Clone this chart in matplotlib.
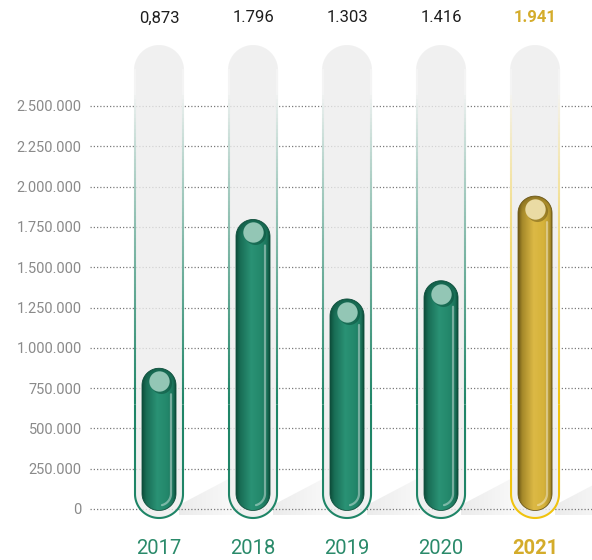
import numpy as np
import matplotlib
matplotlib.use("Agg")
import matplotlib.pyplot as plt
from matplotlib.patches import Polygon
from matplotlib.colors import to_rgb

years = ["2017", "2018", "2019", "2020", "2021"]
values = [873000, 1796000, 1303000, 1416000, 1941000]
value_labels = ["0,873", "1.796", "1.303", "1.416", "1.941"]
yticks = [0, 250000, 500000, 750000, 1000000, 1250000,
          1500000, 1750000, 2000000, 2250000, 2500000]
highlight = [False, False, False, False, True]

plt.rcParams["font.family"] = ["Roboto", "DejaVu Sans"]

W, H = 592, 560
fig = plt.figure(figsize=(W / 100, H / 100), dpi=100)
ax = fig.add_axes([90 / W, 0, 1 - 90 / W, 1])

# pixel <-> data scales (axes fills the figure height)
XL = (-0.734, 4.606)
py = 2500000 / 403
YL = (-51 * py, 2500000 + 106 * py)
px = (XL[1] - XL[0]) / (W - 90)

GREEN = {"edge": "#1f8567", "dark": "#0c4d3a", "mid": "#23876b",
         "light": "#2a9275", "hl": "#93c6b5", "text": "#2a8a6a"}
GOLD = {"edge": "#f0c30f", "dark": "#6b5615", "mid": "#d5b23a",
        "light": "#dcb945", "hl": "#eadba4", "text": "#d4ac2b"}


def pill(c, y0, y1, hw, n=40):
    rx, ry = hw * px, hw * py
    t = np.linspace(0, np.pi, n)
    top = np.column_stack([c + rx * np.cos(t), y1 - ry + ry * np.sin(t)])
    bot = np.column_stack([c - rx * np.cos(t), y0 + ry - ry * np.sin(t)])
    return np.vstack([top, bot])


def blend(a, b, t):
    return a * (1 - t) + b * t


tube_top = YL[1] - 45 * py
tube_bot = -9 * py
fade_full, fade_zero = 650000, 2580000
bg = np.array(to_rgb("#f4f4f4"))

for i, (v, hi) in enumerate(zip(values, highlight)):
    pal = GOLD if hi else GREEN
    c = i
    edge = np.array(to_rgb(pal["edge"]))

    # floor shadow
    sh = np.array([[c + 20 * px, -6 * py], [c + 20 * px, 4 * py],
                   [c + 100 * px, 46 * py], [c + 100 * px, -6 * py]])
    shp = Polygon(sh, closed=True, facecolor="none", edgecolor="none")
    ax.add_patch(shp)
    g = np.linspace(0, 1, 60)
    img = np.ones((2, 60, 4))
    img[..., :3] = 0.9
    img[..., 3] = 0.75 * (1 - g)
    im = ax.imshow(img, extent=[c + 20 * px, c + 100 * px, -6 * py, 46 * py],
                   origin="lower", aspect="auto", zorder=0.3, interpolation="bilinear")
    im.set_clip_path(shp)

    # outer tube
    ax.add_patch(Polygon(pill(c, tube_bot, tube_top, 25), closed=True,
                         facecolor="#ededed", alpha=0.78, edgecolor="none", zorder=1))

    # U-shaped outline: solid part, then fading upwards
    rx, ry = 24 * px, 24 * py
    t = np.linspace(np.pi, 2 * np.pi, 60)
    ys = np.linspace(fade_full, tube_bot + ry, 2)
    solid = np.vstack([np.column_stack([np.full(2, c - rx), ys]),
                       np.column_stack([c + rx * np.cos(t), tube_bot + ry + ry * np.sin(t)]),
                       np.column_stack([np.full(2, c + rx), ys[::-1]])])
    ax.plot(solid[:, 0], solid[:, 1], color=pal["edge"], lw=1.5, zorder=2,
            solid_capstyle="butt", solid_joinstyle="round")
    yf = np.linspace(fade_full, tube_top - ry, 90)
    for ya, yb in zip(yf[:-1], yf[1:]):
        a = np.clip((fade_zero - (ya + yb) / 2) / (fade_zero - fade_full), 0, 1) ** 0.85
        col = blend(bg, edge, a)
        for side in (-1, 1):
            ax.plot([c + side * rx, c + side * rx], [ya, yb], color=col, lw=1.5,
                    zorder=2, solid_capstyle="butt")

    # inner liquid bar with gradient
    y0 = -1.5 * py
    bar = Polygon(pill(c, y0, v, 17), closed=True, facecolor="none",
                  edgecolor=pal["dark"], lw=0.6, zorder=4)
    ax.add_patch(bar)
    nx, ny = 80, 300
    u = np.linspace(0, 1, nx)
    dark = np.array(to_rgb(pal["dark"]))
    mid = np.array(to_rgb(pal["mid"]))
    light = np.array(to_rgb(pal["light"]))
    stops_u = [0.0, 0.12, 0.45, 0.75, 0.92, 1.0]
    stops_c = [dark, blend(dark, mid, 0.55), light, mid, blend(mid, dark, 0.35), dark]
    row = np.stack([np.interp(u, stops_u, [s[k] for s in stops_c]) for k in range(3)], axis=1)
    yy = np.linspace(y0, v, ny)
    dist = (v - yy) / py  # px from top
    top_f = np.clip(1 - dist / 18, 0, 1) ** 1.3 * 0.75
    img = row[None, :, :] * (1 - top_f[:, None, None]) + dark[None, None, :] * top_f[:, None, None]
    im = ax.imshow(img, extent=[c - 17 * px, c + 17 * px, y0, v], origin="lower",
                   aspect="auto", zorder=3, interpolation="bilinear")
    im.set_clip_path(bar)

    # specular stripe on the right side
    sx = c + 12 * px
    t = np.linspace(0, -np.pi * 0.42, 20)
    ybase = y0 + 17 * py
    stripe_x = np.concatenate([[sx, sx], c + 12 * px * np.cos(t)])
    stripe_y = np.concatenate([[v - 26 * py, ybase], ybase + 12 * py * np.sin(t)])
    ax.plot(stripe_x, stripe_y, color="white", alpha=0.4, lw=1.6, zorder=5,
            solid_capstyle="round")

    # highlight bubble
    ax.scatter([c + 1.5 * px], [v - 15 * py], s=230, color=pal["dark"], alpha=0.5,
               lw=0, zorder=5)
    ax.scatter([c - 0.5 * px], [v - 13 * py], s=215, color=pal["hl"], lw=0, zorder=6)

    # labels
    ax.text(c, YL[1] - 18 * py, value_labels[i], ha="center", va="center",
            fontsize=12, color=pal["text"] if hi else "#1e1e1e",
            fontweight="bold" if hi else "normal")
    ax.text(c, -39 * py, years[i], ha="center", va="center", fontsize=14.5,
            color=pal["text"], fontweight="bold" if hi else "normal")

ax.set_xlim(XL)
ax.set_ylim(YL)
ax.set_yticks(yticks)
ax.set_yticklabels([f"{t:,}".replace(",", ".") for t in yticks])
ax.tick_params(axis="y", length=0, pad=6, labelsize=10.5, labelcolor="#8a8a8a")
ax.set_xticks([])
ax.set_axisbelow(True)
ax.yaxis.grid(True, linestyle=(0, (1, 1.6)), color="#7a7a7a", lw=0.9)
for s in ax.spines.values():
    s.set_visible(False)

fig.savefig("out.png", dpi=100)
